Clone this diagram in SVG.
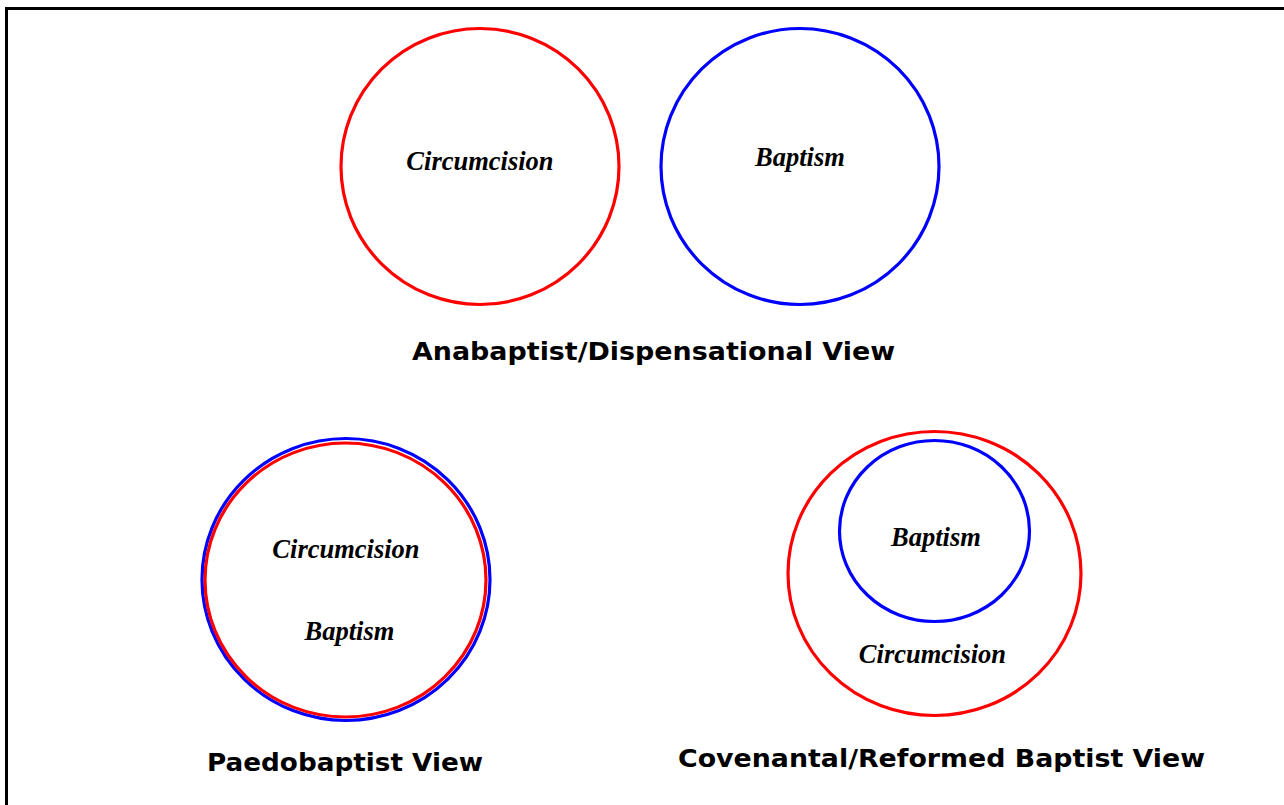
<svg xmlns="http://www.w3.org/2000/svg" width="1284" height="805" viewBox="0 0 1284 805">
<style>
.red{fill:none;stroke:#ff0000;stroke-width:3.2}
.blue{fill:none;stroke:#0000ff;stroke-width:3.2}
.lbl{font-family:"Liberation Serif","Times New Roman",serif;font-weight:bold;font-style:italic;font-size:26.5px;fill:#000;text-anchor:middle}
.hd{font-family:"DejaVu Sans",Verdana,sans-serif;font-weight:bold;font-size:25px;fill:#000;text-anchor:middle}
</style>
<rect x="0" y="0" width="1284" height="805" fill="#fff"/>
<rect x="6.5" y="8.5" width="1300" height="820" fill="none" stroke="#000" stroke-width="3"/>
<g id="anabaptist">
<g id="circumcision-1">
<ellipse class="red" cx="480" cy="166.5" rx="139" ry="138"/>
<text class="lbl" x="480" y="170">Circumcision</text>
</g>
<g id="baptism-1">
<ellipse class="blue" cx="800" cy="166.5" rx="139" ry="138"/>
<text class="lbl" x="800" y="166">Baptism</text>
</g>
<text class="hd" x="653.5" y="359.5" textLength="483" lengthAdjust="spacingAndGlyphs">Anabaptist/Dispensational View</text>
</g>
<g id="paedobaptist">
<ellipse class="blue" cx="346" cy="579.5" rx="144" ry="141" stroke-width="4"/>
<ellipse class="red" cx="345.5" cy="580" rx="140.5" ry="137" stroke-width="3.6"/>
<text class="lbl" x="346" y="558">Circumcision</text>
<text class="lbl" x="349.5" y="640">Baptism</text>
<text class="hd" x="345" y="770.5" textLength="276" lengthAdjust="spacingAndGlyphs">Paedobaptist View</text>
</g>
<g id="covenantal">
<ellipse class="red" cx="934.5" cy="573.5" rx="146.5" ry="142"/>
<ellipse class="blue" cx="934.5" cy="531" rx="95" ry="90.5"/>
<text class="lbl" x="936" y="546">Baptism</text>
<text class="lbl" x="932.5" y="663">Circumcision</text>
<text class="hd" x="941.5" y="766.5" textLength="527" lengthAdjust="spacingAndGlyphs">Covenantal/Reformed Baptist View</text>
</g>
<g id="connectors"></g>
</svg>
